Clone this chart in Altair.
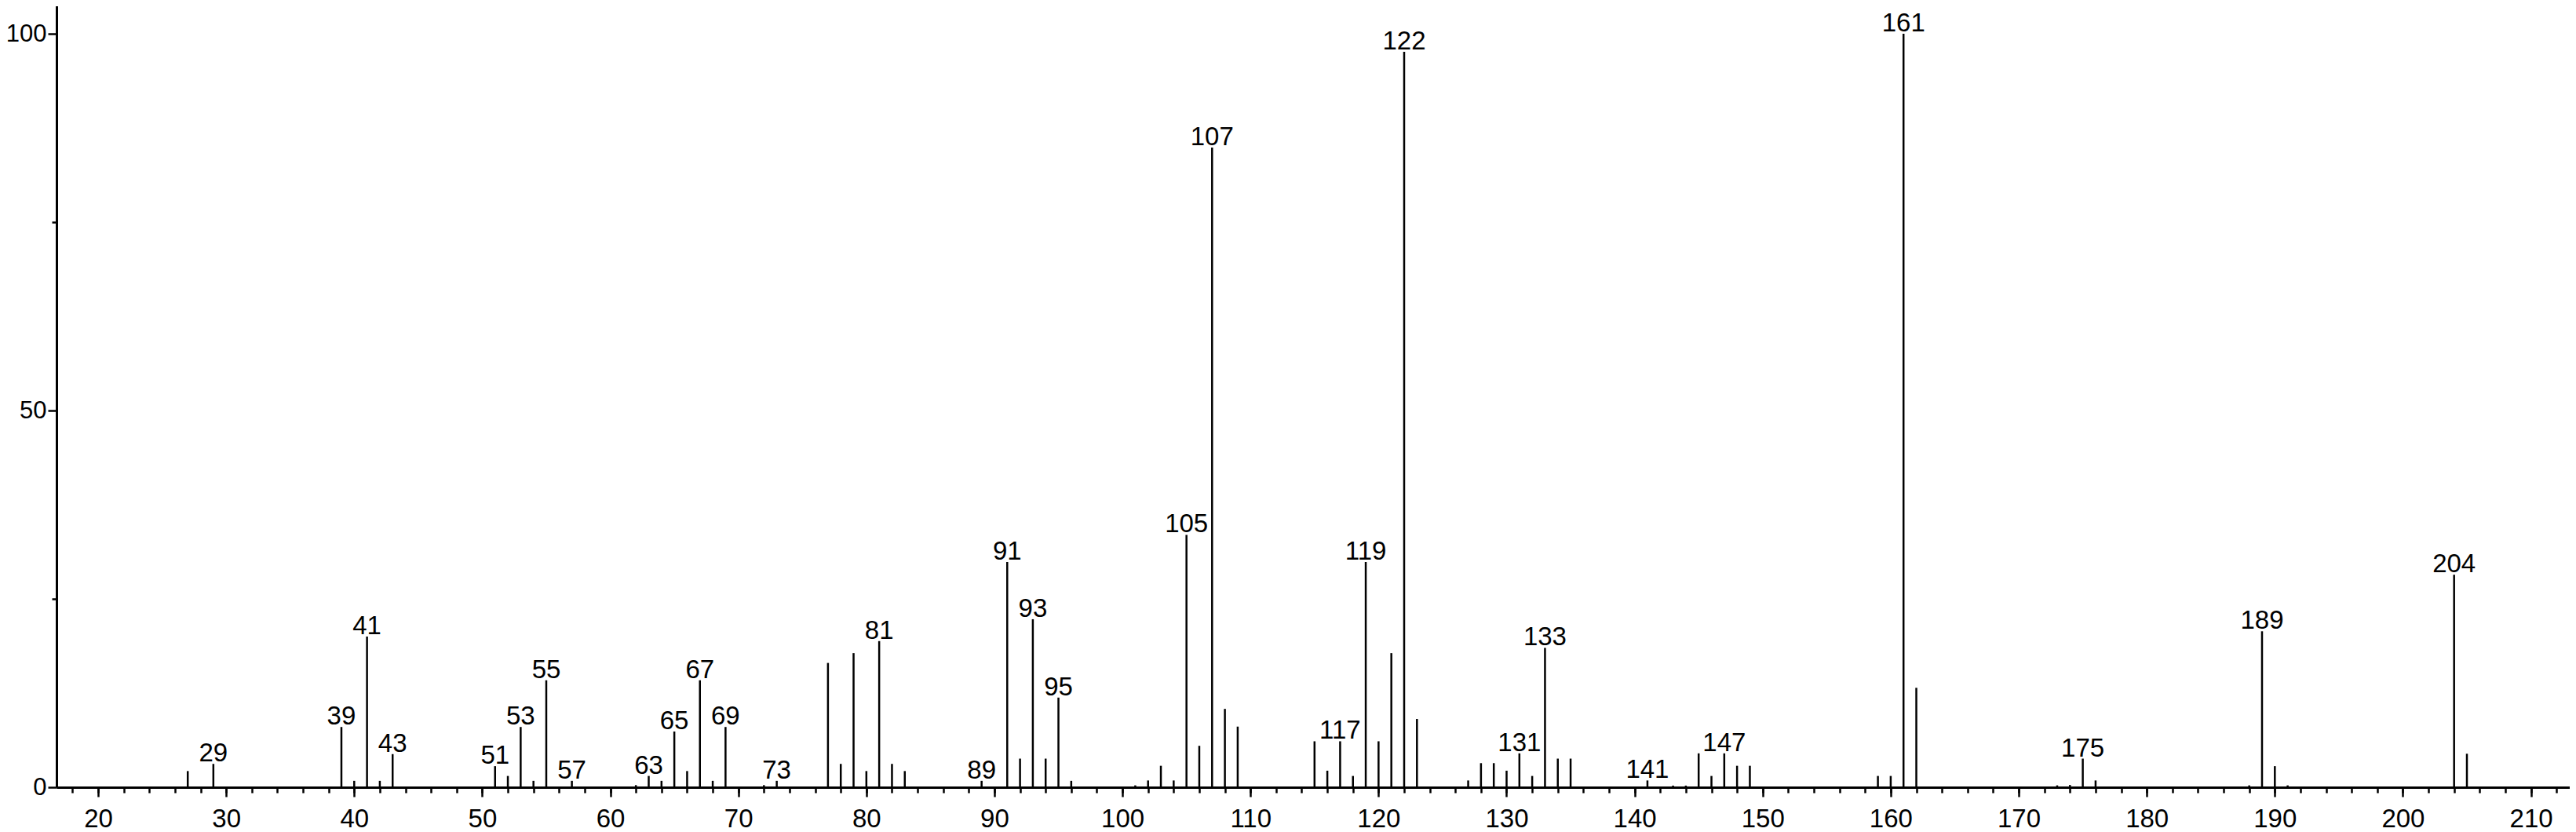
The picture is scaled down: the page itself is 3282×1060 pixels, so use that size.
import altair as alt
import pandas as pd

# m/z values and relative intensities
mz = [27, 29, 39, 40, 41, 42, 43, 51, 52, 53, 54, 55, 57, 62, 63, 64, 65, 66, 67, 68, 69,
      72, 73, 77, 78, 79, 80, 81, 82, 83, 89, 91, 92, 93, 94, 95, 96,
      101, 102, 103, 104, 105, 106, 107, 108, 109, 115, 116, 117, 118, 119, 120, 121, 122, 123,
      127, 128, 129, 130, 131, 132, 133, 134, 135, 141, 143, 144, 145, 146, 147, 148, 149,
      159, 160, 161, 162, 173, 174, 175, 176, 188, 189, 190, 191, 204, 205]
intensity = [2.15, 3.1, 8.0, 0.85, 20.0, 0.85, 4.4, 2.8, 1.5, 8.0, 0.85, 14.2, 0.85, 0.28, 1.5, 0.85, 7.4, 2.15, 14.2, 0.85, 8.0,
             0.28, 0.85, 16.5, 3.1, 17.8, 2.15, 19.4, 3.1, 2.15, 0.85, 29.9, 3.8, 22.3, 3.8, 11.9, 0.85,
             0.25, 0.9, 2.85, 0.9, 33.5, 5.5, 84.9, 10.4, 8.05, 6.1, 2.2, 6.1, 1.5, 29.9, 6.1, 17.8, 97.6, 9.06,
             0.9, 3.2, 3.2, 2.2, 4.5, 1.5, 18.5, 3.8, 3.8, 0.9, 0.22, 0.22, 4.5, 1.5, 4.5, 2.85, 2.85,
             1.5, 1.5, 100.0, 13.2, 0.25, 0.3, 3.8, 0.9, 0.25, 20.7, 2.8, 0.25, 28.2, 4.45]
labeled = [29, 39, 41, 43, 51, 53, 55, 57, 63, 65, 67, 69, 73, 81, 89, 91, 93, 95,
           105, 107, 117, 119, 122, 131, 133, 141, 147, 161, 175, 189, 204]

x_major = list(range(20, 211, 10))
x_minor = list(range(18, 214, 2))
y_major = [0, 50, 100]
y_minor = [25, 75]

df = pd.DataFrame({"mz": mz, "intensity": intensity})
df["label"] = [str(m) if m in labeled else "" for m in mz]

FONT = "Liberation Sans"
FS = 33

xscale = alt.Scale(domain=[16.75, 213.03], nice=False, zero=False)
yscale = alt.Scale(domain=[0, 104.17], nice=False)

common = dict(title=None, grid=False, labelOverlap=False, labelFont=FONT,
              labelColor="black", labelFlush=False, tickColor="black", tickWidth=2.5,
              domainColor="black", domainWidth=3)

xaxis_major = alt.Axis(values=x_major, orient="bottom", tickSize=12, labelPadding=12,
                       labelFontSize=FS, **common)
yaxis_major = alt.Axis(values=y_major, orient="left", tickSize=11, labelPadding=2,
                       labelFontSize=31, **common)
xaxis_minor = alt.Axis(values=x_minor, orient="bottom", tickSize=7, labels=False, domain=False,
                       title=None, grid=False, tickColor="black", tickWidth=2.5)
yaxis_minor = alt.Axis(values=y_minor, orient="left", tickSize=6, labels=False, domain=False,
                       title=None, grid=False, tickColor="black", tickWidth=2.5)

base = alt.Chart(df)

minor = base.mark_rule(opacity=0).encode(
    x=alt.X("mz:Q", scale=xscale, axis=xaxis_minor),
    y=alt.Y("intensity:Q", scale=yscale, axis=yaxis_minor),
)

bars = base.mark_rule(color="black", strokeWidth=2.5).encode(
    x=alt.X("mz:Q", scale=xscale, axis=xaxis_major),
    y=alt.Y("intensity:Q", scale=yscale, axis=yaxis_major),
    y2=alt.datum(0),
)

texts = base.transform_filter("datum.label != ''").mark_text(
    font=FONT, fontSize=FS, color="black", baseline="alphabetic", align="center", dy=-3
).encode(
    x=alt.X("mz:Q", scale=xscale, axis=None),
    y=alt.Y("intensity:Q", scale=yscale, axis=None),
    text="label:N",
)

chart = alt.layer(minor, bars, texts).resolve_axis(x="independent", y="independent").properties(
    width=3202, height=1000,
    autosize=alt.AutoSizeParams(type="none"),
    padding={"left": 64, "top": -5, "right": 0, "bottom": 54},
).configure_view(stroke=None)

chart.save("out.html", embed_options={"renderer": "svg", "actions": False})
